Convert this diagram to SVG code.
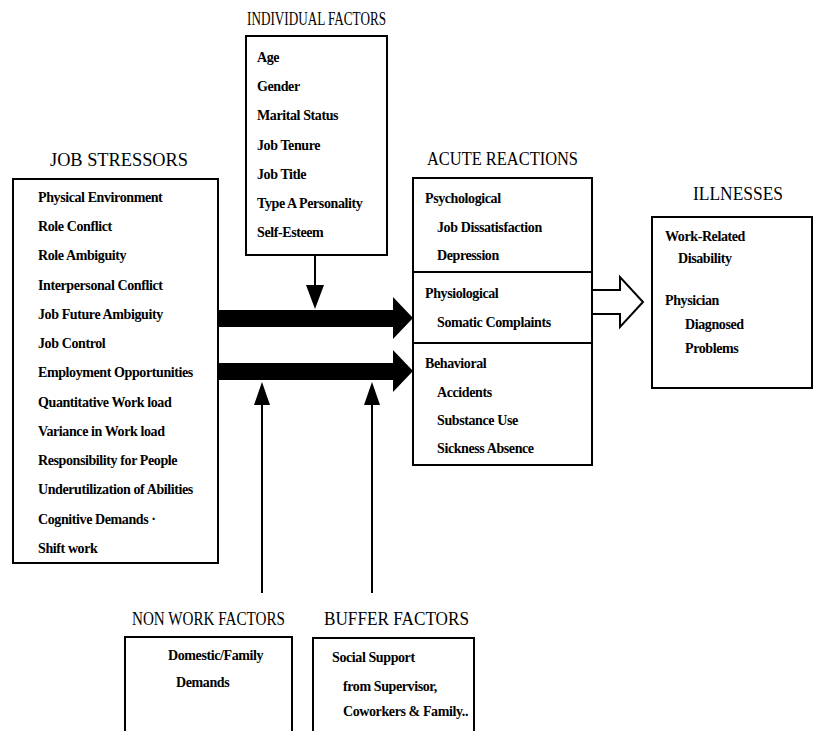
<svg xmlns="http://www.w3.org/2000/svg" width="814" height="731" viewBox="0 0 814 731">
<style>
.box{fill:#fff;stroke:#000;stroke-width:2}
.t{font-family:"Liberation Serif",serif;font-size:19px;fill:#000}
.i{font-family:"Liberation Serif",serif;font-size:14px;font-weight:bold;fill:#000;letter-spacing:-0.4px}
.ln{stroke:#000;stroke-width:2;fill:none}
.solid{fill:#000;stroke:none}
.hollow{fill:#fff;stroke:#000;stroke-width:2;stroke-linejoin:miter}
</style>
<rect width="814" height="731" fill="#fff"/>

<g id="connectors">
  <polygon class="solid" points="218,310 393,310 393,297 413,318 393,339 393,327 218,327"/>
  <polygon class="solid" points="218,363 393,363 393,350 413,371 393,392 393,380 218,380"/>
  <line class="ln" x1="315" y1="255" x2="315" y2="290"/>
  <polygon class="solid" points="306,285 324,285 315,309"/>
  <line class="ln" x1="262" y1="593" x2="262" y2="400"/>
  <polygon class="solid" points="254,405 270,405 262,382"/>
  <line class="ln" x1="372" y1="593" x2="372" y2="400"/>
  <polygon class="solid" points="364,405 380,405 372,382"/>
  <polygon class="hollow" points="592,290 620,290 620,277 643,302 620,327 620,314 592,314"/>
</g>

<g id="job-stressors">
  <text class="t" x="50" y="166" textLength="138" lengthAdjust="spacingAndGlyphs">JOB STRESSORS</text>
  <rect class="box" x="13" y="179" width="205" height="384"/>
  <text class="i" x="38" y="202">Physical Environment</text>
  <text class="i" x="38" y="231">Role Conflict</text>
  <text class="i" x="38" y="260">Role Ambiguity</text>
  <text class="i" x="38" y="290">Interpersonal Conflict</text>
  <text class="i" x="38" y="319">Job Future Ambiguity</text>
  <text class="i" x="38" y="348">Job Control</text>
  <text class="i" x="38" y="377">Employment Opportunities</text>
  <text class="i" x="38" y="407">Quantitative Work load</text>
  <text class="i" x="38" y="436">Variance in Work load</text>
  <text class="i" x="38" y="465">Responsibility for People</text>
  <text class="i" x="38" y="494">Underutilization of Abilities</text>
  <text class="i" x="38" y="524">Cognitive Demands ·</text>
  <text class="i" x="38" y="553">Shift work</text>
</g>

<g id="individual-factors">
  <text class="t" x="247" y="25" textLength="139" lengthAdjust="spacingAndGlyphs">INDIVIDUAL FACTORS</text>
  <rect class="box" x="246" y="36" width="141" height="219"/>
  <text class="i" x="257" y="62">Age</text>
  <text class="i" x="257" y="91">Gender</text>
  <text class="i" x="257" y="120">Marital Status</text>
  <text class="i" x="257" y="150">Job Tenure</text>
  <text class="i" x="257" y="179">Job Title</text>
  <text class="i" x="257" y="208">Type A Personality</text>
  <text class="i" x="257" y="237">Self-Esteem</text>
</g>

<g id="acute-reactions">
  <text class="t" x="427" y="165" textLength="151" lengthAdjust="spacingAndGlyphs">ACUTE REACTIONS</text>
  <rect class="box" x="413" y="178" width="179" height="287"/>
  <line class="ln" x1="413" y1="272" x2="592" y2="272"/>
  <line class="ln" x1="413" y1="343" x2="592" y2="343"/>
  <text class="i" x="425" y="203">Psychological</text>
  <text class="i" x="437" y="232">Job Dissatisfaction</text>
  <text class="i" x="437" y="260">Depression</text>
  <text class="i" x="425" y="298">Physiological</text>
  <text class="i" x="437" y="327">Somatic Complaints</text>
  <text class="i" x="425" y="368">Behavioral</text>
  <text class="i" x="437" y="397">Accidents</text>
  <text class="i" x="437" y="425">Substance Use</text>
  <text class="i" x="437" y="453">Sickness Absence</text>
</g>

<g id="illnesses">
  <text class="t" x="693" y="200" textLength="90" lengthAdjust="spacingAndGlyphs">ILLNESSES</text>
  <rect class="box" x="652" y="217" width="160" height="171"/>
  <text class="i" x="665" y="241">Work-Related</text>
  <text class="i" x="678" y="263">Disability</text>
  <text class="i" x="665" y="305">Physician</text>
  <text class="i" x="685" y="329">Diagnosed</text>
  <text class="i" x="685" y="353">Problems</text>
</g>

<g id="non-work-factors">
  <text class="t" x="132" y="625" textLength="153" lengthAdjust="spacingAndGlyphs">NON WORK FACTORS</text>
  <rect class="box" x="125" y="637" width="167" height="110"/>
  <text class="i" x="168" y="660">Domestic/Family</text>
  <text class="i" x="176" y="687">Demands</text>
</g>

<g id="buffer-factors">
  <text class="t" x="324" y="625" textLength="145" lengthAdjust="spacingAndGlyphs">BUFFER FACTORS</text>
  <rect class="box" x="313" y="638" width="161" height="110"/>
  <text class="i" x="332" y="662">Social Support</text>
  <text class="i" x="343" y="691">from Supervisor,</text>
  <text class="i" x="343" y="716">Coworkers &amp; Family..</text>
</g>
</svg>
